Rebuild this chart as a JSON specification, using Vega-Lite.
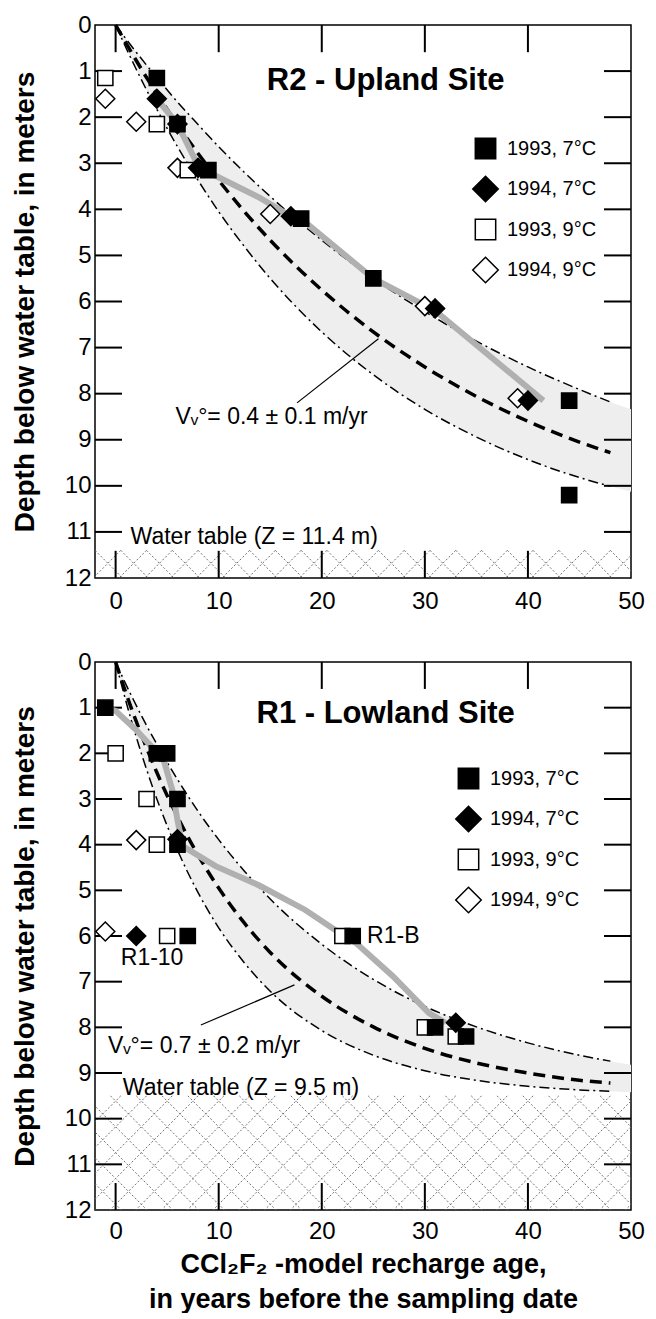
{
  "$schema": "https://vega.github.io/schema/vega-lite/v6.json",
  "padding": {"left": 10, "top": 12, "right": 0, "bottom": 0},
  "spacing": 35,
  "config": {
    "font": "Liberation Sans",
    "view": {"stroke": "black", "strokeWidth": 1.5},
    "axis": {"ticks": false, "labelFontSize": 24, "labelColor": "black", "domain": false, "grid": false, "titleFontSize": 28, "titleFontWeight": "bold", "titleColor": "black", "labelFlush": false, "labelOverlap": false, "labelBound": false}
  },
  "resolve": {"scale": {"shape": "independent", "fill": "independent"}, "legend": {"shape": "independent", "fill": "independent"}},
  "datasets": {
    "tickTop": [
      {"x": -2, "x2": 0.62, "y": 1, "y2": 1}, {"x": -2, "x2": 0.62, "y": 2, "y2": 2}, {"x": -2, "x2": 0.62, "y": 3, "y2": 3},
      {"x": -2, "x2": 0.62, "y": 4, "y2": 4}, {"x": -2, "x2": 0.62, "y": 5, "y2": 5}, {"x": -2, "x2": 0.62, "y": 6, "y2": 6},
      {"x": -2, "x2": 0.62, "y": 7, "y2": 7}, {"x": -2, "x2": 0.62, "y": 8, "y2": 8}, {"x": -2, "x2": 0.62, "y": 9, "y2": 9},
      {"x": -2, "x2": 0.62, "y": 10, "y2": 10}, {"x": -2, "x2": 0.62, "y": 11, "y2": 11},
      {"x": 47.38, "x2": 50, "y": 1, "y2": 1}, {"x": 47.38, "x2": 50, "y": 2, "y2": 2}, {"x": 47.38, "x2": 50, "y": 3, "y2": 3},
      {"x": 47.38, "x2": 50, "y": 4, "y2": 4}, {"x": 47.38, "x2": 50, "y": 5, "y2": 5}, {"x": 47.38, "x2": 50, "y": 6, "y2": 6},
      {"x": 47.38, "x2": 50, "y": 7, "y2": 7}, {"x": 47.38, "x2": 50, "y": 8, "y2": 8}, {"x": 47.38, "x2": 50, "y": 9, "y2": 9},
      {"x": 47.38, "x2": 50, "y": 10, "y2": 10}, {"x": 47.38, "x2": 50, "y": 11, "y2": 11},
      {"x": 0, "x2": 0, "y": 0, "y2": 0.59}, {"x": 10, "x2": 10, "y": 0, "y2": 0.59}, {"x": 20, "x2": 20, "y": 0, "y2": 0.59},
      {"x": 30, "x2": 30, "y": 0, "y2": 0.59}, {"x": 40, "x2": 40, "y": 0, "y2": 0.59},
      {"x": 0, "x2": 0, "y": 11.41, "y2": 12}, {"x": 10, "x2": 10, "y": 11.41, "y2": 12}, {"x": 20, "x2": 20, "y": 11.41, "y2": 12},
      {"x": 30, "x2": 30, "y": 11.41, "y2": 12}, {"x": 40, "x2": 40, "y": 11.41, "y2": 12}
    ],
    "tickBot": [
      {"x": -2, "x2": 0.62, "y": 1, "y2": 1}, {"x": -2, "x2": 0.62, "y": 2, "y2": 2}, {"x": -2, "x2": 0.62, "y": 3, "y2": 3},
      {"x": -2, "x2": 0.62, "y": 4, "y2": 4}, {"x": -2, "x2": 0.62, "y": 5, "y2": 5}, {"x": -2, "x2": 0.62, "y": 6, "y2": 6},
      {"x": -2, "x2": 0.62, "y": 7, "y2": 7}, {"x": -2, "x2": 0.62, "y": 8, "y2": 8}, {"x": -2, "x2": 0.62, "y": 9, "y2": 9},
      {"x": -2, "x2": 0.62, "y": 10, "y2": 10}, {"x": -2, "x2": 0.62, "y": 11, "y2": 11},
      {"x": 47.38, "x2": 50, "y": 1, "y2": 1}, {"x": 47.38, "x2": 50, "y": 2, "y2": 2}, {"x": 47.38, "x2": 50, "y": 3, "y2": 3},
      {"x": 47.38, "x2": 50, "y": 4, "y2": 4}, {"x": 47.38, "x2": 50, "y": 5, "y2": 5}, {"x": 47.38, "x2": 50, "y": 6, "y2": 6},
      {"x": 47.38, "x2": 50, "y": 7, "y2": 7}, {"x": 47.38, "x2": 50, "y": 8, "y2": 8}, {"x": 47.38, "x2": 50, "y": 9, "y2": 9},
      {"x": 47.38, "x2": 50, "y": 10, "y2": 10}, {"x": 47.38, "x2": 50, "y": 11, "y2": 11},
      {"x": 0, "x2": 0, "y": 0, "y2": 0.59}, {"x": 10, "x2": 10, "y": 0, "y2": 0.59}, {"x": 20, "x2": 20, "y": 0, "y2": 0.59},
      {"x": 30, "x2": 30, "y": 0, "y2": 0.59}, {"x": 40, "x2": 40, "y": 0, "y2": 0.59},
      {"x": 0, "x2": 0, "y": 11.41, "y2": 12}, {"x": 10, "x2": 10, "y": 11.41, "y2": 12}, {"x": 20, "x2": 20, "y": 11.41, "y2": 12},
      {"x": 30, "x2": 30, "y": 11.41, "y2": 12}, {"x": 40, "x2": 40, "y": 11.41, "y2": 12}
    ],
    "curvesTop": [
      {"t": 0, "lo": 0, "mid": 0, "hi": 0},
      {"t": 1, "lo": 0.30, "mid": 0.39, "hi": 0.49},
      {"t": 2, "lo": 0.59, "mid": 0.77, "hi": 0.96},
      {"t": 3, "lo": 0.87, "mid": 1.14, "hi": 1.41},
      {"t": 4, "lo": 1.14, "mid": 1.49, "hi": 1.83},
      {"t": 6, "lo": 1.67, "mid": 2.16, "hi": 2.64},
      {"t": 8, "lo": 2.16, "mid": 2.79, "hi": 3.37},
      {"t": 10, "lo": 2.64, "mid": 3.37, "hi": 4.05},
      {"t": 12.5, "lo": 3.20, "mid": 4.05, "hi": 4.81},
      {"t": 15, "lo": 3.72, "mid": 4.67, "hi": 5.50},
      {"t": 20, "lo": 4.67, "mid": 5.75, "hi": 6.66},
      {"t": 25, "lo": 5.50, "mid": 6.66, "hi": 7.59},
      {"t": 30, "lo": 6.22, "mid": 7.42, "hi": 8.34},
      {"t": 35, "lo": 6.86, "mid": 8.06, "hi": 8.94},
      {"t": 40, "lo": 7.42, "mid": 8.60, "hi": 9.43},
      {"t": 45, "lo": 7.91, "mid": 9.05, "hi": 9.82},
      {"t": 48, "lo": 8.18, "mid": 9.28, "hi": 10.01},
      {"t": 50, "lo": 8.34, "mid": 9.43, "hi": 10.13}
    ],
    "curvesBot": [
      {"t": 0, "lo": 0, "mid": 0, "hi": 0},
      {"t": 1, "lo": 0.49, "mid": 0.68, "hi": 0.86},
      {"t": 2, "lo": 0.95, "mid": 1.30, "hi": 1.64},
      {"t": 3, "lo": 1.39, "mid": 1.88, "hi": 2.35},
      {"t": 4, "lo": 1.80, "mid": 2.42, "hi": 3.00},
      {"t": 6, "lo": 2.57, "mid": 3.39, "hi": 4.12},
      {"t": 8, "lo": 3.27, "mid": 4.23, "hi": 5.05},
      {"t": 10, "lo": 3.89, "mid": 4.95, "hi": 5.82},
      {"t": 12.5, "lo": 4.58, "mid": 5.72, "hi": 6.59},
      {"t": 15, "lo": 5.19, "mid": 6.36, "hi": 7.21},
      {"t": 20, "lo": 6.18, "mid": 7.32, "hi": 8.07},
      {"t": 25, "lo": 6.95, "mid": 7.99, "hi": 8.61},
      {"t": 30, "lo": 7.54, "mid": 8.46, "hi": 8.95},
      {"t": 35, "lo": 7.99, "mid": 8.78, "hi": 9.16},
      {"t": 40, "lo": 8.34, "mid": 9.00, "hi": 9.29},
      {"t": 45, "lo": 8.61, "mid": 9.16, "hi": 9.37},
      {"t": 48, "lo": 8.74, "mid": 9.22, "hi": 9.40},
      {"t": 50, "lo": 8.82, "mid": 9.26, "hi": 9.42}
    ],
    "hatchTop": [
      {"x": -4.5, "y": 11.4, "x2": -1.83, "y2": 12}, {"x": -2, "y": 11.4, "x2": 0.67, "y2": 12},
      {"x": 0.5, "y": 11.4, "x2": 3.17, "y2": 12}, {"x": 3, "y": 11.4, "x2": 5.67, "y2": 12},
      {"x": 5.5, "y": 11.4, "x2": 8.17, "y2": 12}, {"x": 8, "y": 11.4, "x2": 10.67, "y2": 12},
      {"x": 10.5, "y": 11.4, "x2": 13.17, "y2": 12}, {"x": 13, "y": 11.4, "x2": 15.67, "y2": 12},
      {"x": 15.5, "y": 11.4, "x2": 18.17, "y2": 12}, {"x": 18, "y": 11.4, "x2": 20.67, "y2": 12},
      {"x": 20.5, "y": 11.4, "x2": 23.17, "y2": 12}, {"x": 23, "y": 11.4, "x2": 25.67, "y2": 12},
      {"x": 25.5, "y": 11.4, "x2": 28.17, "y2": 12}, {"x": 28, "y": 11.4, "x2": 30.67, "y2": 12},
      {"x": 30.5, "y": 11.4, "x2": 33.17, "y2": 12}, {"x": 33, "y": 11.4, "x2": 35.67, "y2": 12},
      {"x": 35.5, "y": 11.4, "x2": 38.17, "y2": 12}, {"x": 38, "y": 11.4, "x2": 40.67, "y2": 12},
      {"x": 40.5, "y": 11.4, "x2": 43.17, "y2": 12}, {"x": 43, "y": 11.4, "x2": 45.67, "y2": 12},
      {"x": 45.5, "y": 11.4, "x2": 48.17, "y2": 12}, {"x": 48, "y": 11.4, "x2": 50.67, "y2": 12},
      {"x": -2, "y": 11.4, "x2": -4.67, "y2": 12}, {"x": 0.5, "y": 11.4, "x2": -2.17, "y2": 12},
      {"x": 3, "y": 11.4, "x2": 0.33, "y2": 12}, {"x": 5.5, "y": 11.4, "x2": 2.83, "y2": 12},
      {"x": 8, "y": 11.4, "x2": 5.33, "y2": 12}, {"x": 10.5, "y": 11.4, "x2": 7.83, "y2": 12},
      {"x": 13, "y": 11.4, "x2": 10.33, "y2": 12}, {"x": 15.5, "y": 11.4, "x2": 12.83, "y2": 12},
      {"x": 18, "y": 11.4, "x2": 15.33, "y2": 12}, {"x": 20.5, "y": 11.4, "x2": 17.83, "y2": 12},
      {"x": 23, "y": 11.4, "x2": 20.33, "y2": 12}, {"x": 25.5, "y": 11.4, "x2": 22.83, "y2": 12},
      {"x": 28, "y": 11.4, "x2": 25.33, "y2": 12}, {"x": 30.5, "y": 11.4, "x2": 27.83, "y2": 12},
      {"x": 33, "y": 11.4, "x2": 30.33, "y2": 12}, {"x": 35.5, "y": 11.4, "x2": 32.83, "y2": 12},
      {"x": 38, "y": 11.4, "x2": 35.33, "y2": 12}, {"x": 40.5, "y": 11.4, "x2": 37.83, "y2": 12},
      {"x": 43, "y": 11.4, "x2": 40.33, "y2": 12}, {"x": 45.5, "y": 11.4, "x2": 42.83, "y2": 12},
      {"x": 48, "y": 11.4, "x2": 45.33, "y2": 12}, {"x": 50.5, "y": 11.4, "x2": 47.83, "y2": 12},
      {"x": 53, "y": 11.4, "x2": 50.33, "y2": 12}
    ],
    "hatchBot": [
      {"x": -13, "y": 9.5, "x2": -1.95, "y2": 12}, {"x": -10.5, "y": 9.5, "x2": 0.55, "y2": 12},
      {"x": -8, "y": 9.5, "x2": 3.05, "y2": 12}, {"x": -5.5, "y": 9.5, "x2": 5.55, "y2": 12},
      {"x": -3, "y": 9.5, "x2": 8.05, "y2": 12}, {"x": -0.5, "y": 9.5, "x2": 10.55, "y2": 12},
      {"x": 2, "y": 9.5, "x2": 13.05, "y2": 12}, {"x": 4.5, "y": 9.5, "x2": 15.55, "y2": 12},
      {"x": 7, "y": 9.5, "x2": 18.05, "y2": 12}, {"x": 9.5, "y": 9.5, "x2": 20.55, "y2": 12},
      {"x": 12, "y": 9.5, "x2": 23.05, "y2": 12}, {"x": 14.5, "y": 9.5, "x2": 25.55, "y2": 12},
      {"x": 17, "y": 9.5, "x2": 28.05, "y2": 12}, {"x": 19.5, "y": 9.5, "x2": 30.55, "y2": 12},
      {"x": 22, "y": 9.5, "x2": 33.05, "y2": 12}, {"x": 24.5, "y": 9.5, "x2": 35.55, "y2": 12},
      {"x": 27, "y": 9.5, "x2": 38.05, "y2": 12}, {"x": 29.5, "y": 9.5, "x2": 40.55, "y2": 12},
      {"x": 32, "y": 9.5, "x2": 43.05, "y2": 12}, {"x": 34.5, "y": 9.5, "x2": 45.55, "y2": 12},
      {"x": 37, "y": 9.5, "x2": 48.05, "y2": 12}, {"x": 39.5, "y": 9.5, "x2": 50.55, "y2": 12},
      {"x": 42, "y": 9.5, "x2": 53.05, "y2": 12}, {"x": 44.5, "y": 9.5, "x2": 55.55, "y2": 12},
      {"x": 47, "y": 9.5, "x2": 58.05, "y2": 12}, {"x": 49.5, "y": 9.5, "x2": 60.55, "y2": 12},
      {"x": -2, "y": 9.5, "x2": -13.05, "y2": 12}, {"x": 0.5, "y": 9.5, "x2": -10.55, "y2": 12},
      {"x": 3, "y": 9.5, "x2": -8.05, "y2": 12}, {"x": 5.5, "y": 9.5, "x2": -5.55, "y2": 12},
      {"x": 8, "y": 9.5, "x2": -3.05, "y2": 12}, {"x": 10.5, "y": 9.5, "x2": -0.55, "y2": 12},
      {"x": 13, "y": 9.5, "x2": 1.95, "y2": 12}, {"x": 15.5, "y": 9.5, "x2": 4.45, "y2": 12},
      {"x": 18, "y": 9.5, "x2": 6.95, "y2": 12}, {"x": 20.5, "y": 9.5, "x2": 9.45, "y2": 12},
      {"x": 23, "y": 9.5, "x2": 11.95, "y2": 12}, {"x": 25.5, "y": 9.5, "x2": 14.45, "y2": 12},
      {"x": 28, "y": 9.5, "x2": 16.95, "y2": 12}, {"x": 30.5, "y": 9.5, "x2": 19.45, "y2": 12},
      {"x": 33, "y": 9.5, "x2": 21.95, "y2": 12}, {"x": 35.5, "y": 9.5, "x2": 24.45, "y2": 12},
      {"x": 38, "y": 9.5, "x2": 26.95, "y2": 12}, {"x": 40.5, "y": 9.5, "x2": 29.45, "y2": 12},
      {"x": 43, "y": 9.5, "x2": 31.95, "y2": 12}, {"x": 45.5, "y": 9.5, "x2": 34.45, "y2": 12},
      {"x": 48, "y": 9.5, "x2": 36.95, "y2": 12}, {"x": 50.5, "y": 9.5, "x2": 39.45, "y2": 12},
      {"x": 53, "y": 9.5, "x2": 41.95, "y2": 12}, {"x": 55.5, "y": 9.5, "x2": 44.45, "y2": 12},
      {"x": 58, "y": 9.5, "x2": 46.95, "y2": 12}, {"x": 60.5, "y": 9.5, "x2": 49.45, "y2": 12},
      {"x": 63, "y": 9.5, "x2": 51.95, "y2": 12}
    ],
    "bandTop": [
      {"x": 4, "y": 1.6}, {"x": 6, "y": 2.15}, {"x": 8, "y": 3.05}, {"x": 9.5, "y": 3.25},
      {"x": 14, "y": 3.75}, {"x": 17, "y": 4.15}, {"x": 18.5, "y": 4.3}, {"x": 25, "y": 5.5},
      {"x": 31, "y": 6.2}, {"x": 41.5, "y": 8.15}
    ],
    "bandBot": [
      {"x": -1, "y": 1.0}, {"x": 0, "y": 1.07}, {"x": 2, "y": 1.49}, {"x": 3.6, "y": 1.88},
      {"x": 4.6, "y": 2.1}, {"x": 5.5, "y": 2.8}, {"x": 6, "y": 3.46}, {"x": 6.5, "y": 4.03},
      {"x": 9.7, "y": 4.47}, {"x": 14, "y": 4.9}, {"x": 18.4, "y": 5.43}, {"x": 21.7, "y": 5.93},
      {"x": 23.3, "y": 6.15}, {"x": 26.9, "y": 6.88}, {"x": 30.4, "y": 7.69}, {"x": 32, "y": 7.9}
    ],
    "pointsTop": [
      {"x": -1, "y": 1.6, "s": "1994, 9°C"}, {"x": 2, "y": 2.1, "s": "1994, 9°C"},
      {"x": 6, "y": 3.1, "s": "1994, 9°C"}, {"x": 15, "y": 4.1, "s": "1994, 9°C"},
      {"x": 30, "y": 6.1, "s": "1994, 9°C"}, {"x": 39, "y": 8.1, "s": "1994, 9°C"},
      {"x": -1, "y": 1.15, "s": "1993, 9°C"}, {"x": 4, "y": 2.15, "s": "1993, 9°C"},
      {"x": 7, "y": 3.15, "s": "1993, 9°C"},
      {"x": 4, "y": 1.15, "s": "1993, 7°C"}, {"x": 6, "y": 2.15, "s": "1993, 7°C"},
      {"x": 9, "y": 3.15, "s": "1993, 7°C"}, {"x": 18, "y": 4.2, "s": "1993, 7°C"},
      {"x": 25, "y": 5.5, "s": "1993, 7°C"}, {"x": 44, "y": 8.15, "s": "1993, 7°C"},
      {"x": 44, "y": 10.2, "s": "1993, 7°C"},
      {"x": 4, "y": 1.6, "s": "1994, 7°C"}, {"x": 6, "y": 2.15, "s": "1994, 7°C"},
      {"x": 8, "y": 3.1, "s": "1994, 7°C"}, {"x": 17, "y": 4.15, "s": "1994, 7°C"},
      {"x": 31, "y": 6.15, "s": "1994, 7°C"}, {"x": 40, "y": 8.15, "s": "1994, 7°C"}
    ],
    "pointsBot": [
      {"x": 2, "y": 3.9, "s": "1994, 9°C"}, {"x": -1, "y": 5.9, "s": "1994, 9°C"},
      {"x": 0, "y": 2.0, "s": "1993, 9°C"}, {"x": 3, "y": 3.0, "s": "1993, 9°C"},
      {"x": 4, "y": 4.0, "s": "1993, 9°C"}, {"x": 5, "y": 6.0, "s": "1993, 9°C"},
      {"x": 22, "y": 6.0, "s": "1993, 9°C"}, {"x": 30, "y": 8.0, "s": "1993, 9°C"},
      {"x": 33, "y": 8.2, "s": "1993, 9°C"},
      {"x": -1, "y": 1.0, "s": "1993, 7°C"}, {"x": 4, "y": 2.0, "s": "1993, 7°C"},
      {"x": 5, "y": 2.0, "s": "1993, 7°C"}, {"x": 6, "y": 3.0, "s": "1993, 7°C"},
      {"x": 6, "y": 4.0, "s": "1993, 7°C"}, {"x": 7, "y": 6.0, "s": "1993, 7°C"},
      {"x": 23, "y": 6.0, "s": "1993, 7°C"}, {"x": 31, "y": 8.0, "s": "1993, 7°C"},
      {"x": 34, "y": 8.2, "s": "1993, 7°C"},
      {"x": 6, "y": 3.88, "s": "1994, 7°C"}, {"x": 2, "y": 6.0, "s": "1994, 7°C"},
      {"x": 33, "y": 7.9, "s": "1994, 7°C"}
    ],
    "leaderTop": [{"x": 17.6, "y": 8.2, "x2": 25.5, "y2": 6.81}],
    "leaderBot": [{"x": 8.27, "y": 7.95, "x2": 17.35, "y2": 7.07}],
    "titleTop": [{"x": 26.2, "y": 1.4, "label": "R2 - Upland Site"}],
    "titleBot": [{"x": 26.2, "y": 1.34, "label": "R1 - Lowland Site"}],
    "annTop": [
      {"x": 5.8, "y": 8.66, "label": "Vᵥ°= 0.4 ± 0.1 m/yr"},
      {"x": 1.45, "y": 11.26, "label": "Water table (Z = 11.4 m)"}
    ],
    "annBot": [
      {"x": -0.75, "y": 8.56, "label": "Vᵥ°= 0.7 ± 0.2 m/yr"},
      {"x": 0.7, "y": 9.48, "label": "Water table (Z = 9.5 m)"},
      {"x": 0.5, "y": 6.63, "label": "R1-10"},
      {"x": 24.4, "y": 6.16, "label": "R1-B"}
    ]
  },
  "vconcat": [
    {
      "width": 536,
      "height": 553,
      "layer": [
        {
          "data": {"name": "curvesTop"},
          "mark": {"type": "area", "fill": "#eeeeee", "interpolate": "monotone"},
          "encoding": {
            "x": {"field": "t", "type": "quantitative", "scale": {"domain": [-2, 50], "nice": false, "zero": false}, "axis": {"orient": "bottom", "values": [0, 10, 20, 30, 40, 50], "title": null, "labelPadding": 11}},
            "y": {"field": "lo", "type": "quantitative", "scale": {"domain": [0, 12], "nice": false, "reverse": true}, "axis": {"orient": "left", "values": [0, 1, 2, 3, 4, 5, 6, 7, 8, 9, 10, 11, 12], "title": "Depth below water table, in meters", "labelPadding": 4, "titlePadding": 25}},
            "y2": {"field": "hi"}
          }
        },
        {
          "data": {"name": "hatchTop"},
          "mark": {"type": "rule", "stroke": "#707070", "strokeWidth": 1, "strokeDash": [2, 2], "clip": true},
          "encoding": {
            "x": {"field": "x", "type": "quantitative", "scale": {"domain": [-2, 50], "nice": false, "zero": false}},
            "y": {"field": "y", "type": "quantitative", "scale": {"domain": [0, 12], "nice": false, "reverse": true}},
            "x2": {"field": "x2"},
            "y2": {"field": "y2"}
          }
        },
        {
          "data": {"name": "tickTop"},
          "mark": {"type": "rule", "stroke": "black", "strokeWidth": 2},
          "encoding": {
            "x": {"field": "x", "type": "quantitative", "scale": {"domain": [-2, 50], "nice": false, "zero": false}},
            "y": {"field": "y", "type": "quantitative", "scale": {"domain": [0, 12], "nice": false, "reverse": true}},
            "x2": {"field": "x2"},
            "y2": {"field": "y2"}
          }
        },
        {
          "data": {"name": "curvesTop"},
          "transform": [{"filter": {"field": "t", "lte": 48}}],
          "mark": {"type": "line", "stroke": "black", "strokeWidth": 1.5, "strokeDash": [10, 4, 2, 4], "interpolate": "monotone"},
          "encoding": {
            "x": {"field": "t", "type": "quantitative", "scale": {"domain": [-2, 50], "nice": false, "zero": false}},
            "y": {"field": "lo", "type": "quantitative", "scale": {"domain": [0, 12], "nice": false, "reverse": true}}
          }
        },
        {
          "data": {"name": "curvesTop"},
          "transform": [{"filter": {"field": "t", "lte": 48}}],
          "mark": {"type": "line", "stroke": "black", "strokeWidth": 1.5, "strokeDash": [10, 4, 2, 4], "interpolate": "monotone"},
          "encoding": {
            "x": {"field": "t", "type": "quantitative", "scale": {"domain": [-2, 50], "nice": false, "zero": false}},
            "y": {"field": "hi", "type": "quantitative", "scale": {"domain": [0, 12], "nice": false, "reverse": true}}
          }
        },
        {
          "data": {"name": "curvesTop"},
          "transform": [{"filter": {"field": "t", "lte": 48}}],
          "mark": {"type": "line", "stroke": "black", "strokeWidth": 3.5, "strokeDash": [12, 7], "interpolate": "monotone"},
          "encoding": {
            "x": {"field": "t", "type": "quantitative", "scale": {"domain": [-2, 50], "nice": false, "zero": false}},
            "y": {"field": "mid", "type": "quantitative", "scale": {"domain": [0, 12], "nice": false, "reverse": true}}
          }
        },
        {
          "data": {"name": "bandTop"},
          "mark": {"type": "line", "stroke": "#b0b0b0", "strokeWidth": 6},
          "encoding": {
            "x": {"field": "x", "type": "quantitative", "scale": {"domain": [-2, 50], "nice": false, "zero": false}},
            "y": {"field": "y", "type": "quantitative", "scale": {"domain": [0, 12], "nice": false, "reverse": true}}
          }
        },
        {
          "data": {"name": "pointsTop"},
          "mark": {"type": "point", "filled": false, "size": 360, "stroke": "black", "strokeWidth": 1.5, "opacity": 1},
          "encoding": {
            "x": {"field": "x", "type": "quantitative", "scale": {"domain": [-2, 50], "nice": false, "zero": false}},
            "y": {"field": "y", "type": "quantitative", "scale": {"domain": [0, 12], "nice": false, "reverse": true}},
            "shape": {"field": "s", "type": "nominal", "scale": {"domain": ["1993, 7°C", "1994, 7°C", "1993, 9°C", "1994, 9°C"], "range": ["M-0.8,-0.8L0.8,-0.8L0.8,0.8L-0.8,0.8Z", "M0,-1L1,0L0,1L-1,0Z", "M-0.8,-0.8L0.8,-0.8L0.8,0.8L-0.8,0.8Z", "M0,-1L1,0L0,1L-1,0Z"]}, "legend": {"orient": "none", "legendX": 377, "legendY": 110, "title": null, "symbolSize": 650, "labelFontSize": 20, "labelColor": "black", "rowPadding": 10.5, "labelOffset": 8, "padding": 0, "symbolOpacity": 1, "encode": {"symbols": {"update": {"stroke": {"value": "black"}, "strokeWidth": {"value": 1.5}}}}}},
            "fill": {"field": "s", "type": "nominal", "scale": {"domain": ["1993, 7°C", "1994, 7°C", "1993, 9°C", "1994, 9°C"], "range": ["black", "black", "white", "white"]}, "legend": {"orient": "none", "legendX": 377, "legendY": 110, "title": null, "symbolSize": 650, "labelFontSize": 20, "labelColor": "black", "rowPadding": 10.5, "labelOffset": 8, "padding": 0, "symbolOpacity": 1, "encode": {"symbols": {"update": {"stroke": {"value": "black"}, "strokeWidth": {"value": 1.5}}}}}}
          }
        },
        {
          "data": {"name": "leaderTop"},
          "mark": {"type": "rule", "stroke": "black", "strokeWidth": 1.2},
          "encoding": {
            "x": {"field": "x", "type": "quantitative", "scale": {"domain": [-2, 50], "nice": false, "zero": false}},
            "y": {"field": "y", "type": "quantitative", "scale": {"domain": [0, 12], "nice": false, "reverse": true}},
            "x2": {"field": "x2"},
            "y2": {"field": "y2"}
          }
        },
        {
          "data": {"name": "titleTop"},
          "mark": {"type": "text", "fontSize": 31, "fontWeight": "bold", "align": "center", "baseline": "alphabetic", "color": "black"},
          "encoding": {
            "x": {"field": "x", "type": "quantitative", "scale": {"domain": [-2, 50], "nice": false, "zero": false}},
            "y": {"field": "y", "type": "quantitative", "scale": {"domain": [0, 12], "nice": false, "reverse": true}},
            "text": {"field": "label"}
          }
        },
        {
          "data": {"name": "annTop"},
          "mark": {"type": "text", "fontSize": 23, "align": "left", "baseline": "alphabetic", "color": "black"},
          "encoding": {
            "x": {"field": "x", "type": "quantitative", "scale": {"domain": [-2, 50], "nice": false, "zero": false}},
            "y": {"field": "y", "type": "quantitative", "scale": {"domain": [0, 12], "nice": false, "reverse": true}},
            "text": {"field": "label"}
          }
        }
      ]
    },
    {
      "width": 536,
      "height": 548,
      "layer": [
        {
          "data": {"name": "curvesBot"},
          "mark": {"type": "area", "fill": "#eeeeee", "interpolate": "monotone"},
          "encoding": {
            "x": {"field": "t", "type": "quantitative", "scale": {"domain": [-2, 50], "nice": false, "zero": false}, "axis": {"orient": "bottom", "values": [0, 10, 20, 30, 40, 50], "title": ["CCl₂F₂ -model recharge age,", "in years before the sampling date"], "titleFontSize": 27, "titleLineHeight": 35, "titlePadding": 8, "labelPadding": 9}},
            "y": {"field": "lo", "type": "quantitative", "scale": {"domain": [0, 12], "nice": false, "reverse": true}, "axis": {"orient": "left", "values": [0, 1, 2, 3, 4, 5, 6, 7, 8, 9, 10, 11, 12], "title": "Depth below water table, in meters", "labelPadding": 4, "titlePadding": 25}},
            "y2": {"field": "hi"}
          }
        },
        {
          "data": {"name": "hatchBot"},
          "mark": {"type": "rule", "stroke": "#707070", "strokeWidth": 1, "strokeDash": [2, 2], "clip": true},
          "encoding": {
            "x": {"field": "x", "type": "quantitative", "scale": {"domain": [-2, 50], "nice": false, "zero": false}},
            "y": {"field": "y", "type": "quantitative", "scale": {"domain": [0, 12], "nice": false, "reverse": true}},
            "x2": {"field": "x2"},
            "y2": {"field": "y2"}
          }
        },
        {
          "data": {"name": "tickBot"},
          "mark": {"type": "rule", "stroke": "black", "strokeWidth": 2},
          "encoding": {
            "x": {"field": "x", "type": "quantitative", "scale": {"domain": [-2, 50], "nice": false, "zero": false}},
            "y": {"field": "y", "type": "quantitative", "scale": {"domain": [0, 12], "nice": false, "reverse": true}},
            "x2": {"field": "x2"},
            "y2": {"field": "y2"}
          }
        },
        {
          "data": {"name": "curvesBot"},
          "transform": [{"filter": {"field": "t", "lte": 48}}],
          "mark": {"type": "line", "stroke": "black", "strokeWidth": 1.5, "strokeDash": [10, 4, 2, 4], "interpolate": "monotone"},
          "encoding": {
            "x": {"field": "t", "type": "quantitative", "scale": {"domain": [-2, 50], "nice": false, "zero": false}},
            "y": {"field": "lo", "type": "quantitative", "scale": {"domain": [0, 12], "nice": false, "reverse": true}}
          }
        },
        {
          "data": {"name": "curvesBot"},
          "transform": [{"filter": {"field": "t", "lte": 48}}],
          "mark": {"type": "line", "stroke": "black", "strokeWidth": 1.5, "strokeDash": [10, 4, 2, 4], "interpolate": "monotone"},
          "encoding": {
            "x": {"field": "t", "type": "quantitative", "scale": {"domain": [-2, 50], "nice": false, "zero": false}},
            "y": {"field": "hi", "type": "quantitative", "scale": {"domain": [0, 12], "nice": false, "reverse": true}}
          }
        },
        {
          "data": {"name": "curvesBot"},
          "transform": [{"filter": {"field": "t", "lte": 48}}],
          "mark": {"type": "line", "stroke": "black", "strokeWidth": 3.5, "strokeDash": [12, 7], "interpolate": "monotone"},
          "encoding": {
            "x": {"field": "t", "type": "quantitative", "scale": {"domain": [-2, 50], "nice": false, "zero": false}},
            "y": {"field": "mid", "type": "quantitative", "scale": {"domain": [0, 12], "nice": false, "reverse": true}}
          }
        },
        {
          "data": {"name": "bandBot"},
          "mark": {"type": "line", "stroke": "#b0b0b0", "strokeWidth": 6},
          "encoding": {
            "x": {"field": "x", "type": "quantitative", "scale": {"domain": [-2, 50], "nice": false, "zero": false}},
            "y": {"field": "y", "type": "quantitative", "scale": {"domain": [0, 12], "nice": false, "reverse": true}}
          }
        },
        {
          "data": {"name": "pointsBot"},
          "mark": {"type": "point", "filled": false, "size": 360, "stroke": "black", "strokeWidth": 1.5, "opacity": 1},
          "encoding": {
            "x": {"field": "x", "type": "quantitative", "scale": {"domain": [-2, 50], "nice": false, "zero": false}},
            "y": {"field": "y", "type": "quantitative", "scale": {"domain": [0, 12], "nice": false, "reverse": true}},
            "shape": {"field": "s", "type": "nominal", "scale": {"domain": ["1993, 7°C", "1994, 7°C", "1993, 9°C", "1994, 9°C"], "range": ["M-0.8,-0.8L0.8,-0.8L0.8,0.8L-0.8,0.8Z", "M0,-1L1,0L0,1L-1,0Z", "M-0.8,-0.8L0.8,-0.8L0.8,0.8L-0.8,0.8Z", "M0,-1L1,0L0,1L-1,0Z"]}, "legend": {"orient": "none", "legendX": 360, "legendY": 103, "title": null, "symbolSize": 650, "labelFontSize": 20, "labelColor": "black", "rowPadding": 10.5, "labelOffset": 8, "padding": 0, "symbolOpacity": 1, "encode": {"symbols": {"update": {"stroke": {"value": "black"}, "strokeWidth": {"value": 1.5}}}}}},
            "fill": {"field": "s", "type": "nominal", "scale": {"domain": ["1993, 7°C", "1994, 7°C", "1993, 9°C", "1994, 9°C"], "range": ["black", "black", "white", "white"]}, "legend": {"orient": "none", "legendX": 360, "legendY": 103, "title": null, "symbolSize": 650, "labelFontSize": 20, "labelColor": "black", "rowPadding": 10.5, "labelOffset": 8, "padding": 0, "symbolOpacity": 1, "encode": {"symbols": {"update": {"stroke": {"value": "black"}, "strokeWidth": {"value": 1.5}}}}}}
          }
        },
        {
          "data": {"name": "leaderBot"},
          "mark": {"type": "rule", "stroke": "black", "strokeWidth": 1.2},
          "encoding": {
            "x": {"field": "x", "type": "quantitative", "scale": {"domain": [-2, 50], "nice": false, "zero": false}},
            "y": {"field": "y", "type": "quantitative", "scale": {"domain": [0, 12], "nice": false, "reverse": true}},
            "x2": {"field": "x2"},
            "y2": {"field": "y2"}
          }
        },
        {
          "data": {"name": "titleBot"},
          "mark": {"type": "text", "fontSize": 31, "fontWeight": "bold", "align": "center", "baseline": "alphabetic", "color": "black"},
          "encoding": {
            "x": {"field": "x", "type": "quantitative", "scale": {"domain": [-2, 50], "nice": false, "zero": false}},
            "y": {"field": "y", "type": "quantitative", "scale": {"domain": [0, 12], "nice": false, "reverse": true}},
            "text": {"field": "label"}
          }
        },
        {
          "data": {"name": "annBot"},
          "mark": {"type": "text", "fontSize": 23, "align": "left", "baseline": "alphabetic", "color": "black"},
          "encoding": {
            "x": {"field": "x", "type": "quantitative", "scale": {"domain": [-2, 50], "nice": false, "zero": false}},
            "y": {"field": "y", "type": "quantitative", "scale": {"domain": [0, 12], "nice": false, "reverse": true}},
            "text": {"field": "label"}
          }
        }
      ]
    }
  ]
}
